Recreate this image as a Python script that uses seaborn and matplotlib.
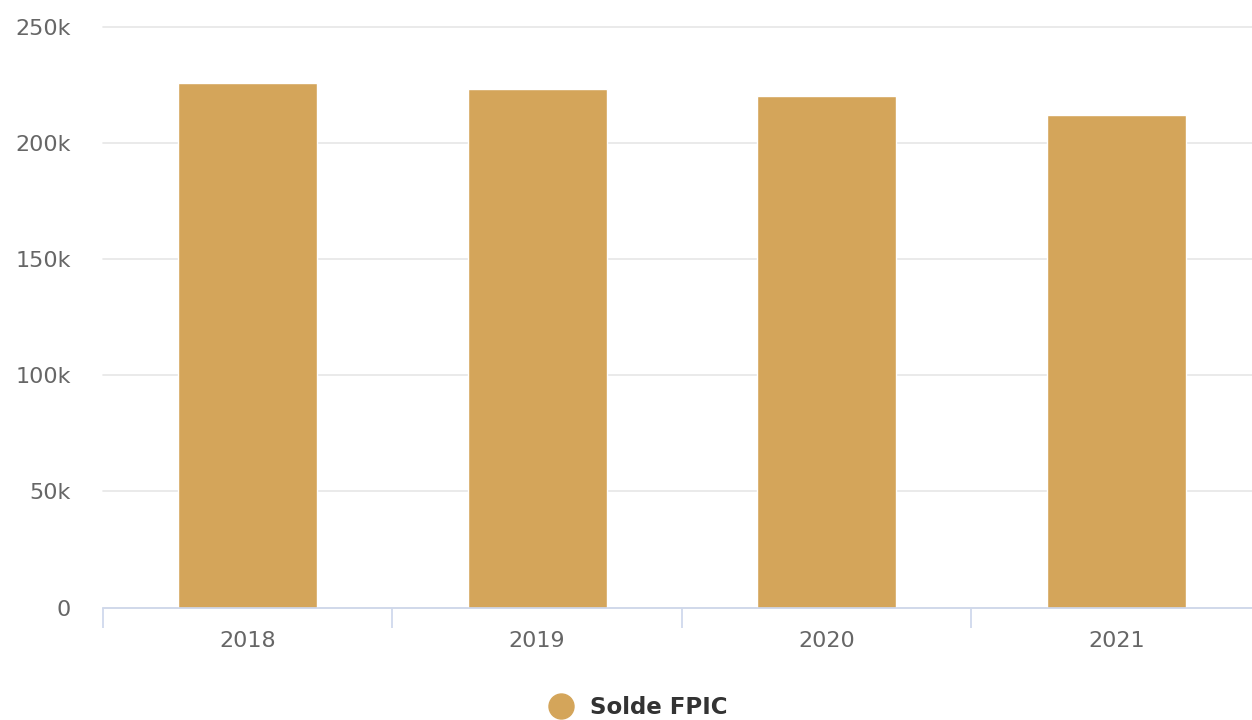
import matplotlib
matplotlib.use("Agg")
import matplotlib.pyplot as plt
import seaborn as sns
import pandas as pd
from matplotlib.ticker import FuncFormatter, FixedLocator
from matplotlib.lines import Line2D

years = ["2018", "2019", "2020", "2021"]
solde_fpic = [225800, 223200, 220400, 212300]
series_name = "Solde FPIC"
y_ticks = [0, 50000, 100000, 150000, 200000, 250000]

BAR_COLOR = "#d4a55a"

sns.set_theme(style="white")
plt.rcParams["font.family"] = ["DejaVu Sans"]

df = pd.DataFrame({"year": years, "value": solde_fpic, "series": series_name})

fig = plt.figure(figsize=(12.52, 7.2), dpi=100)
ax = fig.add_axes([102.7 / 1252, 1 - 607.5 / 720, (1261 - 102.7) / 1252, (607.5 - 27) / 720])

sns.barplot(data=df, x="year", y="value", hue="series", palette=[BAR_COLOR],
            width=0.48, ax=ax, legend=False, edgecolor="white", linewidth=1, saturation=1)

ax.set_ylim(0, 250000)
ax.set_xlim(-0.5, 3.5)
ax.set_yticks(y_ticks)
ax.yaxis.set_major_formatter(FuncFormatter(lambda v, p: "0" if v == 0 else f"{int(v/1000)}k"))
ax.grid(axis="y", color="#e6e6e6", linewidth=1.2)
for gl in ax.yaxis.get_gridlines():
    gl.set_clip_on(False)
ax.set_axisbelow(True)
ax.set_xlabel("")
ax.set_ylabel("")

for s in ["top", "right", "left"]:
    ax.spines[s].set_visible(False)
ax.spines["bottom"].set_color("#ccd6eb")
ax.spines["bottom"].set_linewidth(1.2)

ax.tick_params(axis="y", length=0, pad=23, labelsize=16, labelcolor="#666666")
ax.tick_params(axis="x", which="major", length=0, pad=17, labelsize=16, labelcolor="#666666")
ax.xaxis.set_minor_locator(FixedLocator([-0.5, 0.5, 1.5, 2.5, 3.5]))
ax.tick_params(axis="x", which="minor", length=14.4, width=1.2, color="#ccd6eb", bottom=True)

handle = Line2D([], [], marker="o", linestyle="", markersize=18,
                markerfacecolor=BAR_COLOR, markeredgecolor=BAR_COLOR)
fig.legend([handle], [series_name], loc="center", bbox_to_anchor=(0.51, 1 - 708 / 720),
           frameon=False, handletextpad=0.75, handlelength=1.0,
           prop={"weight": "bold", "size": 16.5}, labelcolor="#333333")

fig.savefig("out.png", dpi=100)
